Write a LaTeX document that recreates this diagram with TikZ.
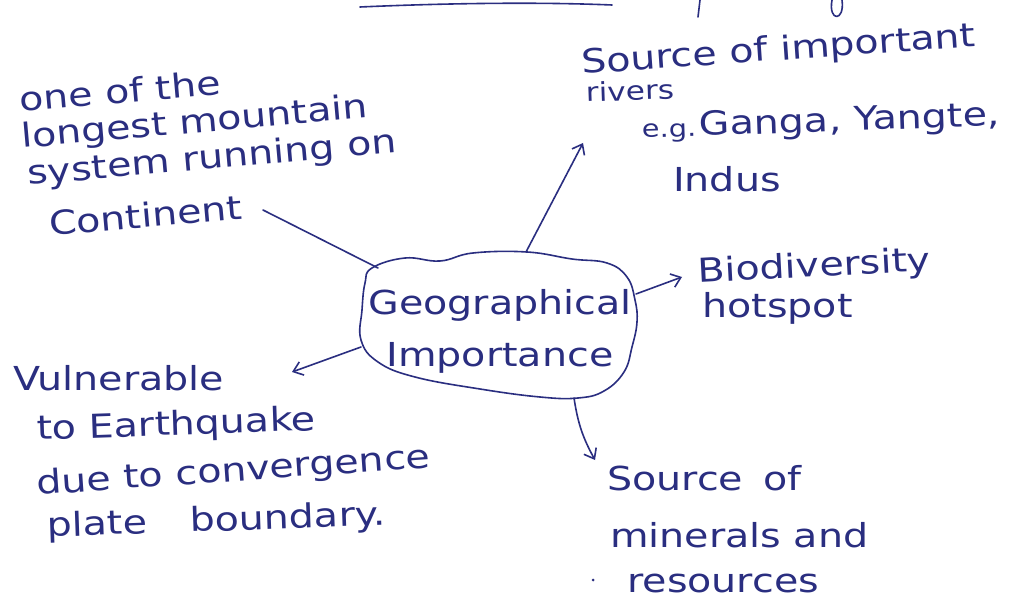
\documentclass[tikz,border=0pt]{standalone}
\usepackage{fontspec}
\setmainfont{DejaVu Sans}[FakeStretch = 1.2]
\usetikzlibrary{arrows.meta}
\definecolor{ink}{RGB}{42,46,128}

\begin{document}
\begin{tikzpicture}[x = 1pt, y = -1pt,
        hand/.style = {color = ink, font = \fontsize{33}{40}\selectfont, inner sep = 0pt, anchor = base west},
        small/.style = {hand, font = \fontsize{26}{30}\selectfont},
        pen/.style = {color = ink, line width = 1.6pt, line cap = round, line join = round},
        arr/.style = {pen, -{Straight Barb[length = 9pt, width = 14pt]}}]
        \useasboundingbox[fill = white] (0, 0) rectangle (1025, 601);

        \draw[pen] (360, 7) .. controls (450, 3) and (540, 2) .. (612, 5);
        \draw[pen] (700, 0) -- (698, 17);
        \draw[pen] (832, 0) .. controls (828, 22) and (845, 22) .. (842, 0);

        \draw[pen] plot[smooth cycle, tension = .7] coordinates {(372, 268) (405, 258) (440, 261) (473, 253) (527, 252) (572, 259) (607, 263) (627, 277) (635, 300) (637, 322) (632, 347) (624, 372) (604, 391) (578, 398) (540, 397) (480, 389) (415, 377) (378, 362) (361, 340) (362, 310) (365, 283)};
        \node[hand, anchor = center, align = center] (geo) at (500, 331) {Geographical\\[12pt]Importance};

        \coordinate (geo-mnt) at (378, 268);
        \coordinate (geo-riv) at (526, 252);
        \coordinate (geo-bio) at (636, 294);
        \coordinate (geo-vul) at (361, 347);
        \coordinate (geo-min) at (574, 398);

        \node[hand, rotate = 5] (mnt1) at (20, 112) {one of the};
        \node[hand, rotate = 5] (mnt2) at (22, 148) {longest mountain};
        \node[hand, rotate = 5] (mnt3) at (28, 185) {system running on};
        \node[hand, rotate = 5] (mnt4) at (50, 236) {Continent};
        \coordinate (mnt-end) at (263, 210);

        \node[hand, rotate = 4] (riv1) at (582, 74) {Source of important};
        \node[small, rotate = 2] (riv2) at (586, 102) {rivers};
        \node[hand, rotate = 2] (riv3) at (642, 138) {{\fontsize{24}{30}\selectfont e.g.}\hspace{.1em}Ganga, Yangte,};
        \node[hand] (riv4) at (673, 192) {Indus};
        \coordinate (riv-tip) at (583, 143);

        \node[hand, rotate = 3] (bio1) at (698, 283) {Biodiversity};
        \node[hand] (bio2) at (702, 318) {hotspot};
        \coordinate (bio-tip) at (682, 277);

        \node[hand] (vul1) at (13, 390) {Vulnerable};
        \node[hand, rotate = 2] (vul2) at (37, 440) {to Earthquake};
        \node[hand, rotate = 4] (vul3) at (37, 495) {due to convergence};
        \node[hand, rotate = 2] (vul4) at (47, 537) {plate\hspace{1.3em}boundary.};
        \coordinate (vul-tip) at (292, 372);

        \node[hand] (min1) at (607, 490) {Source\hspace{.6em}of};
        \node[hand] (min2) at (610, 547) {minerals and};
        \node[hand] (min3) at (627, 592) {resources};
        \fill[ink] (593, 580) circle (1.5);
        \coordinate (min-tip) at (595, 460);

        \draw[pen] (mnt-end) -- (geo-mnt);
        \draw[arr] (geo-riv) -- (riv-tip);
        \draw[arr] (geo-bio) -- (bio-tip);
        \draw[arr] (geo-vul) -- (vul-tip);
        \draw[arr] (geo-min) to[bend right = 10] (min-tip);
    \end{tikzpicture}
\end{document}
